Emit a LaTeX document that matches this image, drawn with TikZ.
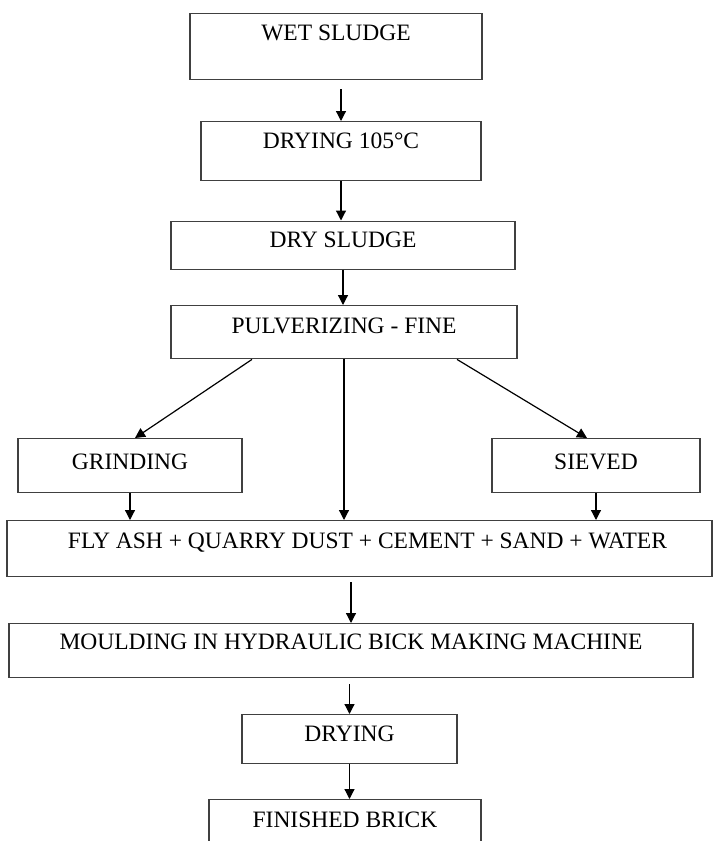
\documentclass[tikz,border=0pt]{standalone}
\usepackage{fontspec}
\setmainfont{Liberation Serif}
\usetikzlibrary{arrows.meta}

\begin{document}
\begin{tikzpicture}[
    x=1pt, y=-1pt,
    stage/.style={draw=black!75, line width=1.4pt, anchor=north, inner xsep=0pt, inner ysep=0pt,
        font=\fontsize{23.5}{28}\selectfont},
    flow/.style={-{Triangle[length=10pt,width=10pt]}, line width=1.2pt}
    ]

    \useasboundingbox (0,0) rectangle (713,841);
    \clip (0,0) rectangle (713,841);

    \node[stage, minimum width=292pt, text height=27pt, text depth=39pt] (wet) at (336,13) {WET SLUDGE};
    \node[stage, minimum width=280pt, text height=27pt, text depth=32pt] (dryA) at (341,121) {DRYING 105°C};
    \node[stage, minimum width=344pt, text height=26pt, text depth=22pt] (drys) at (343,220.5) {DRY SLUDGE};
    \node[stage, minimum width=346pt, text height=28pt, text depth=25pt] (pulv) at (344,305) {PULVERIZING - FINE};
    \node[stage, minimum width=224pt, text height=31pt, text depth=23pt] (grind) at (130,438) {GRINDING};
    \node[stage, minimum width=208pt, text height=31pt, text depth=23pt] (sieve) at (596,438) {SIEVED};
    \node[stage, minimum width=705pt, text height=28pt, text depth=28pt] (mix) at (359.5,520) {\hspace{16pt}FLY ASH + QUARRY DUST + CEMENT + SAND + WATER};
    \node[stage, minimum width=684pt, text height=26pt, text depth=28pt] (mould) at (351,623) {MOULDING IN HYDRAULIC BICK MAKING MACHINE};
    \node[stage, minimum width=215pt, text height=27pt, text depth=22pt] (dryB) at (349.5,714) {DRYING};
    \node[stage, minimum width=272pt, text height=28pt, text depth=40pt] (brick) at (345,799) {FINISHED BRICK};

    \draw[flow, shorten <=9pt] (wet.south -| dryA.north) -- (dryA.north);
    \draw[flow] (dryA.south) -- (dryA.south |- drys.north);
    \draw[flow] (drys.south) -- (drys.south |- pulv.north);
    \draw[flow] ([xshift=-92pt]pulv.south) -- ([xshift=5pt]grind.north);
    \draw[flow] (pulv.south) -- (pulv.south |- mix.north);
    \draw[flow] ([xshift=113pt]pulv.south) -- ([xshift=-9pt]sieve.north);
    \draw[flow] (grind.south) -- (grind.south |- mix.north);
    \draw[flow] (sieve.south) -- (sieve.south |- mix.north);
    \draw[flow, shorten <=5pt] (mix.south -| mould.north) -- (mould.north);
    \draw[flow, shorten <=6pt] (mould.south -| dryB.north) -- (dryB.north);
    \draw[flow] (dryB.south) -- (dryB.south |- brick.north);

\end{tikzpicture}
\end{document}
